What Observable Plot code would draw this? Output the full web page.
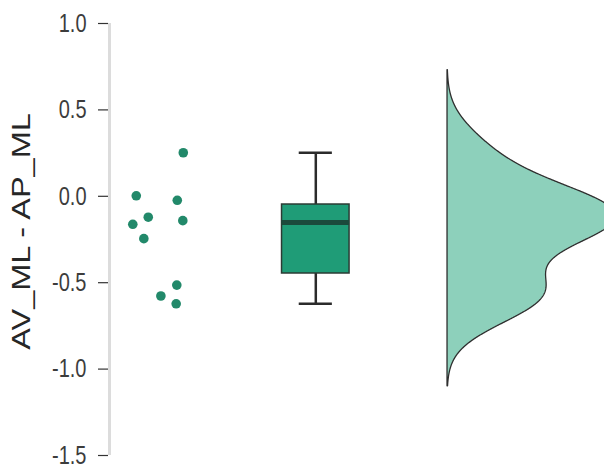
<!DOCTYPE html>
<html>
<head>
<meta charset="utf-8">
<script src="https://cdn.jsdelivr.net/npm/d3@7"></script>
<script src="https://cdn.jsdelivr.net/npm/@observablehq/plot@0.6"></script>
<style>
  html, body { margin: 0; padding: 0; background: #fff; }
  #chart svg { display: block; }
</style>
</head>
<body>
<div id="chart"></div>
<script>
// ---- data ----
const values = [0.252, 0.003, -0.023, -0.121, -0.162, -0.141, -0.245, -0.514, -0.577, -0.622];
const jitter = [0.160, -0.138, 0.122, -0.062, -0.160, 0.157, -0.090, 0.119, 0.018, 0.115];
const yTicks = [-1.5, -1.0, -0.5, 0.0, 0.5, 1.0];
const yLabel = "AV_ML - AP_ML";

// ---- layout constants ----
const xPoints = 1, xBox = 2, xViolin = 2.835;
const boxHalf = 0.214, capHalf = 0.105, violinWidth = 1.07;

// ---- derived stats ----
const sorted = values.slice().sort(d3.ascending);
const q1 = d3.quantile(sorted, 0.25), med = d3.quantile(sorted, 0.5), q3 = d3.quantile(sorted, 0.75);
const iqr = q3 - q1;
const lo = d3.min(sorted.filter(v => v >= q1 - 1.5 * iqr));
const hi = d3.max(sorted.filter(v => v <= q3 + 1.5 * iqr));
const boxStats = [{q1, med, q3, lo, hi}];

// gaussian KDE with R's bw.nrd0
const n = values.length;
const bw = 0.9 * Math.min(d3.deviation(values), iqr / 1.34) * Math.pow(n, -0.2);
const y0 = d3.min(values) - 3 * bw, y1 = d3.max(values) + 3 * bw;
const grid = d3.range(512).map(i => y0 + (y1 - y0) * i / 511);
const dens = grid.map(y => ({
  y,
  d: d3.sum(values, v => Math.exp(-0.5 * ((y - v) / bw) ** 2)) / (n * bw * Math.sqrt(2 * Math.PI))
}));
const dmax = d3.max(dens, d => d.d);

const pts = values.map((v, i) => ({x: xPoints + jitter[i], y: v}));

const xDomain = [0.686, 3.83];

const chart = Plot.plot({
  width: 604,
  height: 466,
  marginLeft: 108,
  marginRight: 0,
  marginTop: 23,
  marginBottom: 11,
  style: {fontFamily: "Liberation Sans, Arial, sans-serif", background: "#fff"},
  x: {domain: xDomain, axis: null},
  y: {domain: [-1.5, 1.0]},
  marks: [
    Plot.ruleX([xDomain[0]], {y1: -1.5, y2: 1.0, stroke: "#dcdcdc", strokeWidth: 3, dx: 1}),
    Plot.axisY({ticks: yTicks, tickFormat: d => d.toFixed(1), tickSize: 10, tickPadding: 12,
      fontSize: 20, fill: "#3c3c3c", stroke: "#333", strokeWidth: 1.2, label: null}),
    Plot.text([yLabel], {frameAnchor: "left", textAnchor: "middle", rotate: -90, dx: -87, dy: -8,
      fontSize: 25, fill: "#262626"}),
    // violin (half)
    Plot.areaX(dens, {y: "y", x1: xViolin, x2: d => xViolin + d.d / dmax * violinWidth,
      fill: "#8dd0bb", stroke: "#2f2f2f", strokeWidth: 1.3, clip: true}),
    // box plot
    Plot.ruleX(boxStats, {x: xBox, y1: "q3", y2: "hi", stroke: "#2b2b2b", strokeWidth: 2.5}),
    Plot.ruleX(boxStats, {x: xBox, y1: "lo", y2: "q1", stroke: "#2b2b2b", strokeWidth: 2.5}),
    Plot.ruleY(boxStats, {y: "hi", x1: xBox - capHalf, x2: xBox + capHalf, stroke: "#2b2b2b", strokeWidth: 2.5}),
    Plot.ruleY(boxStats, {y: "lo", x1: xBox - capHalf, x2: xBox + capHalf, stroke: "#2b2b2b", strokeWidth: 2.5}),
    Plot.rect(boxStats, {x1: xBox - boxHalf, x2: xBox + boxHalf, y1: "q1", y2: "q3",
      fill: "#1f9c77", stroke: "#2b3b34", strokeWidth: 1.5}),
    Plot.ruleY(boxStats, {y: "med", x1: xBox - boxHalf, x2: xBox + boxHalf, stroke: "#1b4a3c", strokeWidth: 5}),
    // points
    Plot.dot(pts, {x: "x", y: "y", r: 4.8, fill: "#22896a", stroke: "none"})
  ]
});

// the reference's lettering is stretched vertically (~1.3x)
d3.select(chart).selectAll("g[aria-label='y-axis tick label'] text").each(function() {
  const t = this.getAttribute("transform") || "";
  this.setAttribute("transform", t + " scale(1,1.3)");
});
d3.select(chart).selectAll("g[aria-label='text'] text").each(function() {
  const t = this.getAttribute("transform") || "";
  this.setAttribute("transform", t + " scale(1.3,1)");
});
document.getElementById("chart").appendChild(chart);
</script>
</body>
</html>
